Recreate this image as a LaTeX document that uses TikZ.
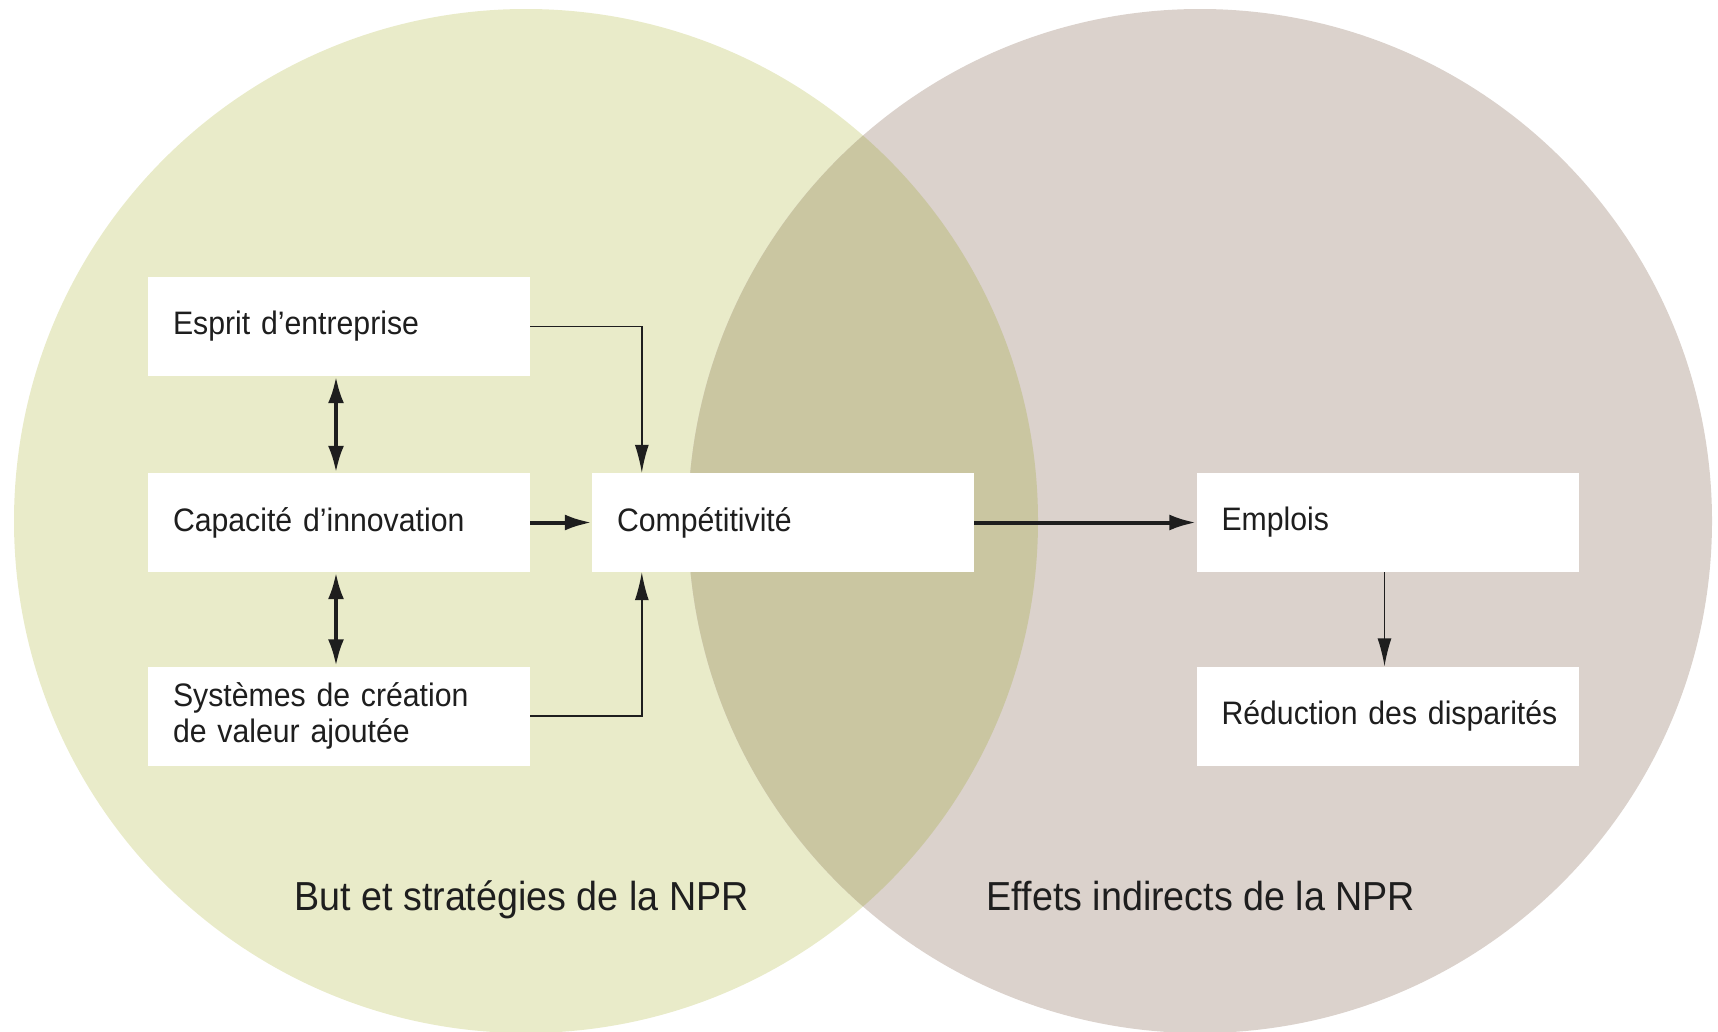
\documentclass[tikz,border=0pt]{standalone}
\usepackage{fontspec}
\setmainfont{Liberation Sans}[FakeStretch=0.93]
\usetikzlibrary{arrows.meta}
\definecolor{leftc}{RGB}{233,235,201}
\definecolor{rightc}{RGB}{219,210,204}
\definecolor{lapc}{RGB}{202,198,161}
\definecolor{ink}{RGB}{30,30,30}
\tikzset{
  box/.style={fill=white, minimum width=382pt, minimum height=99pt, text width=332pt,
    inner xsep=25pt, inner ysep=0pt, align=left, text=ink,
    font=\fontsize{32.5}{36}\selectfont},
  thinarrow/.style={draw=ink, line width=1.4pt, -{Latex[length=28pt,width=14pt]}},
  thickarrow/.style={draw=ink, line width=4pt, -{Latex[length=27pt,width=16pt]}},
  dblarrow/.style={draw=ink, line width=4pt, {Latex[length=27pt,width=16pt]}-{Latex[length=27pt,width=16pt]}},
  biglabel/.style={text=ink, anchor=base, inner sep=0pt, font=\fontsize{40.5}{44}\selectfont}
}
\begin{document}
\begin{tikzpicture}[x=1pt,y=-1pt]
\useasboundingbox (0,0) rectangle (1718,1031);
\fill[leftc] (526,521) circle (512);
\fill[rightc] (1200,521) circle (512);
\begin{scope}
  \clip (526,521) circle (512);
  \fill[lapc] (1200,521) circle (512);
\end{scope}

\node[box] (esp) at (339,326.5) {Esprit d’entreprise};
\node[box] (cap) at (339,522.5) {Capacité d’innovation};
\node[box] (sys) at (339,716) {Systèmes de création\\de valeur ajoutée};
\node[box] (comp) at (783,522.5) {Compétitivité};
\node[box] (emp) at (1387.5,522.5) {Emplois};
\node[box] (red) at (1387.5,716) {\hbox to 332pt{Réduction des disparités\hss}};

\node[biglabel] (lbl1) at (521.5,910) {But et stratégies de la NPR};
\node[biglabel] (lbl2) at (1201,910) {Effets indirects de la NPR};

\draw[dblarrow] ([xshift=-3pt]esp.south) -- ([xshift=-3pt]cap.north);
\draw[dblarrow] ([xshift=-3pt]cap.south) -- ([xshift=-3pt]sys.north);
\draw[thickarrow] (cap.east) -- (comp.west);
\draw[thinarrow] (esp.east) -| ([xshift=50pt]comp.north west);
\draw[thinarrow] (sys.east) -| ([xshift=50pt]comp.south west);
\draw[thickarrow] (comp.east) -- (emp.west);
\draw[thinarrow] ([xshift=-3pt]emp.south) -- ([xshift=-3pt]red.north);
\end{tikzpicture}
\end{document}
